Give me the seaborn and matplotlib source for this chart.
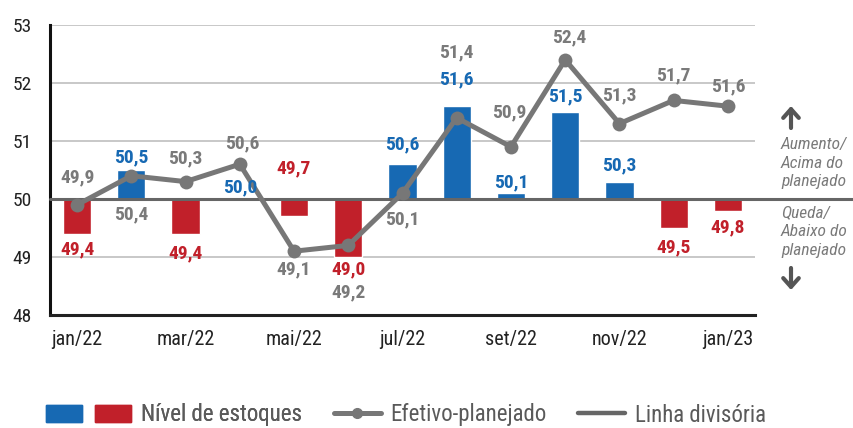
import numpy as np
import pandas as pd
import matplotlib
matplotlib.use("Agg")
import matplotlib.pyplot as plt
import seaborn as sns
from matplotlib.patches import Patch, FancyArrowPatch
from matplotlib.lines import Line2D
from matplotlib.legend_handler import HandlerTuple
from matplotlib import font_manager as fm

meses = ["jan/22", "fev/22", "mar/22", "abr/22", "mai/22", "jun/22", "jul/22",
         "ago/22", "set/22", "out/22", "nov/22", "dez/22", "jan/23"]
estoques = [49.4, 50.5, 49.4, 50.0, 49.7, 49.0, 50.6, 51.6, 50.1, 51.5, 50.3, 49.5, 49.8]
efetivo = [49.9, 50.4, 50.3, 50.6, 49.1, 49.2, 50.1, 51.4, 50.9, 52.4, 51.3, 51.7, 51.6]
yticks = [48, 49, 50, 51, 52, 53]
base = 50.0

# label offsets in points (style only)
bar_off = [-11, 9, -14, 8, 22, -9, 14, 19, 8, 11, 12, -14, -12]
line_off = [20, -28, 17, 15, -13, -34, -19, 47, 25, 16, 20, 18, 14]
line_dx = [0, 0, 0, 2, 0, 0, 0, 0, -1, 3, 0, 0, 0]

fl = fm.fontManager.ttflist
names = {f.name for f in fl}
stretch = "normal"
fam = "DejaVu Sans"
for cand in ["Roboto Condensed", "Open Sans Condensed", "Liberation Sans Narrow",
             "DejaVu Sans Condensed", "Noto Sans Condensed"]:
    if cand in names:
        fam = cand
        break
else:
    for c2 in ["DejaVu Sans", "Roboto", "Open Sans", "Noto Sans"]:
        if any(f.name == c2 and "condensed" in str(f.stretch) for f in fl):
            fam = c2
            stretch = "condensed"
            break

sns.set_theme(style="white")
plt.rcParams["font.family"] = [fam, "DejaVu Sans"]
plt.rcParams["font.stretch"] = stretch

BLUE = "#1769b3"
RED = "#c1202a"
GRAY = "#777777"
LGRAY = "#7a7a7a"
DIV = "#666666"

df = pd.DataFrame({
    "mes": meses,
    "pos": np.arange(len(meses)),
    "delta": np.array(estoques) - base,
    "sinal": ["pos" if v >= base else "neg" for v in estoques],
    "efetivo": efetivo,
})

fig = plt.figure(figsize=(8.54, 4.28), dpi=100)
ax = fig.add_axes([50 / 854, 113 / 428, 705 / 854, 290 / 428])

for g in [49, 51, 52, 53]:
    ax.axhline(g, color="#c4c4c4", lw=1.3, zorder=0)

sns.barplot(data=df, x="pos", y="delta", hue="sinal",
            palette={"pos": BLUE, "neg": RED}, dodge=False, legend=False,
            saturation=1, width=0.52, bottom=base, ax=ax, zorder=2, native_scale=True)

ax.axhline(base, xmin=0, xmax=(854 - 50) / 705, color=DIV, lw=2.2,
           clip_on=False, zorder=3)

sns.lineplot(data=df, x="pos", y="efetivo", color=GRAY, lw=3.6, marker="o",
             markersize=10, markeredgewidth=0, ax=ax, zorder=4)

for i, v in enumerate(estoques):
    col = BLUE if v >= base else RED
    yref = v
    off = bar_off[i]
    if v < base and off > 0:
        yref = base
    ax.annotate(f"{v:.1f}".replace(".", ","), (i, yref), xytext=(0, off),
                textcoords="offset points", ha="center", va="center",
                color=col, fontsize=14, fontweight="bold", zorder=5)

for i, v in enumerate(efetivo):
    ax.annotate(f"{v:.1f}".replace(".", ","), (i, v), xytext=(line_dx[i], line_off[i]),
                textcoords="offset points", ha="center", va="center",
                color=LGRAY, fontsize=14, fontweight="bold", zorder=5)

ax.set_xlim(-0.5, len(meses) - 0.5)
ax.set_ylim(48, 53)
ax.set_yticks(yticks)
ax.set_yticklabels([str(t) for t in yticks], fontsize=14, color="#222222")
ax.set_xticks(np.arange(0, len(meses), 2))
ax.set_xticklabels(meses[::2], fontsize=14.5, color="#222222")
ax.set_xticks(np.arange(-0.5, len(meses), 1), minor=True)
ax.tick_params(axis="x", which="major", length=0, pad=11)
ax.tick_params(axis="x", which="minor", length=6, width=2, color="#111111", direction="out")
ax.tick_params(axis="y", length=5, width=1.5, color="#111111", pad=8)
ax.set_xlabel("")
ax.set_ylabel("")
for s in ["top", "right"]:
    ax.spines[s].set_visible(False)
ax.spines["left"].set_color("#111111")
ax.spines["left"].set_linewidth(2.2)
ax.spines["bottom"].set_color("#222222")
ax.spines["bottom"].set_linewidth(2.2)

# right-hand annotations
def px(x, y):
    return (x / 854, 1 - y / 428)

for y0, y1 in [(128, 106), (268, 290)]:
    fig.add_artist(FancyArrowPatch(px(791, y0), px(791, y1), transform=fig.transFigure,
                                   arrowstyle="->,head_length=0.45,head_width=0.4",
                                   lw=3, color="#555555", mutation_scale=14,
                                   shrinkA=0, shrinkB=0))
fig.text(*px(781, 163), "Aumento/\nAcima do\nplanejado", ha="left",
         va="center", fontsize=12.5, style="italic", color=LGRAY, linespacing=1.32)
fig.text(*px(781, 232), "Queda/\nAbaixo do\nplanejado", ha="left",
         va="center", fontsize=12.5, style="italic", color=LGRAY, linespacing=1.32)

# legend
LEGFS = 16.5
leg1 = fig.legend([(Patch(color=BLUE), Patch(color=RED))], ["Nível de estoques"],
                  loc="center left", bbox_to_anchor=(46 / 854, 1 - 415 / 428),
                  frameon=False, fontsize=LEGFS, labelcolor="#5a5a5a",
                  handler_map={tuple: HandlerTuple(ndivide=None, pad=0.6)},
                  handlelength=3.7, handletextpad=0.45, borderpad=0, borderaxespad=0)
fig.add_artist(leg1)
leg2 = fig.legend([Line2D([], [], color=GRAY, lw=3.6, marker="o", markersize=7),
                   Line2D([], [], color=DIV, lw=3.2)],
                  ["Efetivo-planejado", "Linha divisória"],
                  loc="center left", bbox_to_anchor=(334 / 854, 1 - 415 / 428),
                  ncol=2, frameon=False, fontsize=LEGFS, labelcolor="#5a5a5a",
                  handlelength=2.05, handletextpad=0.4, columnspacing=1.4,
                  borderpad=0, borderaxespad=0)

fig.savefig("out.png", dpi=100)
